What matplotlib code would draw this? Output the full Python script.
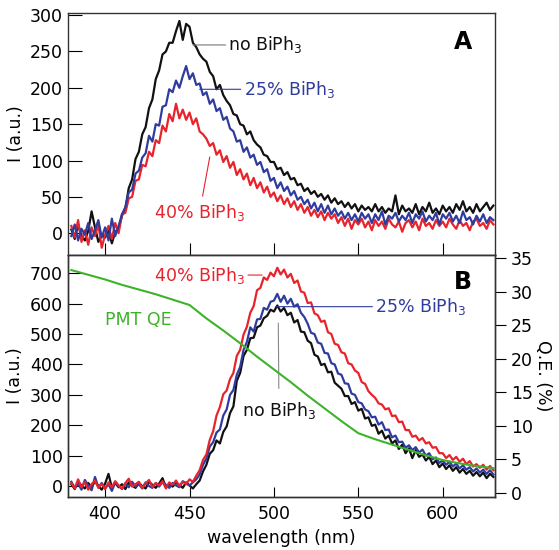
import numpy as np
import matplotlib
matplotlib.use("Agg")
import matplotlib.pyplot as plt

plt.rcParams["font.family"] = ["DejaVu Sans"]
plt.rcParams["mathtext.fontset"] = "dejavusans"

wl = np.arange(380, 631, 2)

# panel A, emission (a.u.), every 2 nm
a_none = [5, -8, 12, -4, -10, 3, 30, 8, -12, -2,
          -6, 4, -14, 2, 6, 24, 34, 62, 74, 102,
          112, 136, 146, 172, 184, 212, 224, 246, 250, 262,
          262, 278, 292, 266, 288, 284, 262, 256, 246, 240,
          236, 222, 216, 198, 204, 190, 182, 176, 164, 162,
          150, 148, 136, 140, 128, 122, 118, 108, 106, 98,
          98, 88, 90, 80, 84, 74, 76, 66, 68, 58,
          62, 54, 58, 50, 54, 46, 52, 42, 48, 40,
          44, 36, 42, 34, 40, 30, 38, 32, 36, 30,
          40, 30, 36, 28, 34, 30, 52, 26, 38, 30,
          34, 28, 40, 26, 36, 30, 42, 28, 34, 26,
          38, 30, 36, 28, 40, 32, 44, 30, 36, 28,
          40, 30, 36, 42, 32, 38]
a_25 = [-4, 12, -10, 6, -2, 14, -8, 4, 18, -6,
        8, -10, 20, -4, 10, 26, 36, 56, 60, 82,
        86, 104, 110, 134, 126, 150, 148, 174, 176, 198,
        194, 210, 200, 216, 230, 212, 220, 204, 206, 190,
        194, 178, 184, 168, 172, 156, 160, 144, 140, 126,
        128, 112, 118, 104, 108, 94, 98, 84, 88, 72,
        76, 62, 70, 58, 64, 52, 58, 46, 50, 40,
        46, 34, 42, 30, 40, 28, 38, 26, 34, 24,
        30, 20, 28, 18, 26, 16, 28, 20, 26, 14,
        26, 18, 30, 12, 24, 20, 28, 16, 24, 18,
        28, 14, 26, 20, 30, 16, 24, 18, 28, 12,
        26, 20, 28, 16, 24, 14, 30, 18, 22, 12,
        24, 16, 26, 14, 22, 18]
a_40 = [10, -6, 18, -12, 4, -16, 8, -4, 12, -20,
        -2, 10, -8, 14, 0, 26, 28, 48, 50, 72,
        74, 94, 92, 112, 106, 128, 124, 148, 140, 164,
        154, 178, 158, 170, 156, 166, 150, 158, 140, 136,
        130, 120, 124, 108, 114, 98, 106, 90, 98, 80,
        88, 74, 82, 66, 76, 62, 70, 56, 64, 50,
        56, 44, 52, 40, 48, 36, 44, 32, 40, 28,
        36, 24, 32, 22, 30, 18, 28, 20, 26, 14,
        22, 10, 20, 6, 18, 12, 20, 8, 16, 4,
        18, 10, 16, 6, 20, 12, 8, 16, 2, 14,
        18, 8, 16, 4, 20, 10, 14, 6, 18, 10,
        16, 8, 20, 12, 6, 18, 10, 14, 4, 16,
        20, 10, 14, 6, 18, 12]

# panel B, emission (a.u.)
b_none = [6, -10, 14, 2, -8, 10, -4, 16, 0, -12,
          8, 40, -6, 10, -4, 6, -10, 12, 2, -6,
          10, 0, -8, 14, 4, -6, 8, 26, -4, 6,
          -2, 10, 4, -6, 12, 2, -8, 6, 18, 48,
          70, 106, 118, 150, 140, 178, 196, 240, 262, 346,
          372, 428, 448, 486, 488, 522, 528, 552, 560, 580,
          574, 594, 574, 586, 562, 570, 538, 546, 508, 506,
          478, 470, 432, 426, 398, 402, 374, 376, 340, 330,
          320, 296, 296, 270, 276, 248, 254, 222, 226, 198,
          202, 172, 182, 156, 166, 140, 150, 122, 136, 108,
          124, 92, 118, 96, 104, 84, 96, 72, 84, 62,
          74, 56, 68, 50, 62, 44, 56, 40, 50, 34,
          46, 32, 44, 26, 40, 30]
b_25 = [14, -6, 8, -12, 20, 2, -14, 30, -4, 10,
        -8, 6, -16, 12, 0, -10, 8, -4, 14, -2,
        6, -8, 12, 0, -6, 10, -2, 14, 4, -6,
        10, 2, -4, 16, 8, 2, 12, 22, 38, 70,
        90, 130, 144, 176, 186, 232, 252, 300, 316, 366,
        392, 448, 474, 522, 508, 548, 550, 586, 580, 606,
        610, 632, 606, 626, 600, 616, 590, 598, 570, 556,
        534, 504, 500, 472, 468, 438, 436, 404, 400, 370,
        366, 338, 336, 304, 300, 276, 272, 252, 246, 226,
        228, 202, 210, 184, 186, 160, 166, 144, 146, 126,
        134, 118, 128, 110, 120, 100, 108, 88, 94, 76,
        84, 70, 80, 64, 74, 58, 68, 54, 62, 48,
        58, 44, 54, 40, 52, 38]
b_40 = [10, -8, 22, -4, 14, -12, 6, 18, -6, 8,
        -10, 12, -4, 16, 2, -8, 10, 24, -2, 6,
        14, -6, 8, 20, -4, 10, 2, 16, -8, 12,
        4, 18, 0, 14, 6, 22, 14, 34, 52, 86,
        104, 152, 180, 232, 260, 302, 314, 352, 372, 428,
        448, 498, 524, 570, 592, 644, 652, 686, 678, 702,
        690, 718, 696, 712, 686, 698, 668, 676, 640, 636,
        602, 604, 568, 562, 540, 544, 506, 500, 468, 464,
        440, 436, 404, 400, 380, 372, 342, 336, 312, 300,
        290, 272, 268, 252, 256, 230, 232, 210, 212, 184,
        184, 162, 166, 150, 158, 140, 144, 126, 128, 108,
        108, 92, 102, 86, 96, 80, 90, 72, 82, 64,
        72, 60, 70, 54, 66, 52]

# PMT quantum efficiency (%)
qe_wl = [380, 390, 400, 410, 420, 430, 440, 450, 460, 470, 480, 490, 500,
         510, 520, 530, 540, 550, 560, 570, 580, 590, 600, 610, 620, 630]
qe = [33.2, 32.5, 31.8, 31.0, 30.3, 29.6, 28.8, 28.0, 26.0, 24.2, 22.3, 20.3,
      18.4, 16.5, 14.5, 12.6, 10.7, 8.9, 8.0, 7.2, 6.4, 5.6, 4.9, 4.4, 4.0, 3.7]

BLACK = "#111111"
BLUE = "#2F3C9E"
RED = "#E8232B"
GREEN = "#3DB32A"
FS = 12.5
LW = 1.6

fig = plt.figure(figsize=(5.59, 5.5), dpi=100)
axA = fig.add_axes([0.1216, 0.5364, 0.764, 0.44])
axB = fig.add_axes([0.1216, 0.0964, 0.764, 0.44], sharex=axA)

axA.plot(wl, a_none, color=BLACK, lw=LW)
axA.plot(wl, a_40, color=RED, lw=LW)
axA.plot(wl, a_25, color=BLUE, lw=LW)
axA.set_ylim(-30, 303)
axA.set_yticks(range(0, 301, 50))
axA.set_ylabel("I (a.u.)", fontsize=FS)
axA.tick_params(axis="x", direction="in", length=9, labelbottom=False)
axA.tick_params(axis="y", direction="in", length=10, labelsize=FS)

axA.annotate("no BiPh$_3$", xy=(452, 259), xytext=(473, 259), fontsize=FS,
             color=BLACK, va="center",
             arrowprops=dict(arrowstyle="-", color="#777777", lw=0.8, shrinkA=0, shrinkB=0))
axA.annotate("25% BiPh$_3$", xy=(456, 198), xytext=(482, 198), fontsize=FS,
             color=BLUE, va="center",
             arrowprops=dict(arrowstyle="-", color=BLUE, lw=0.8, shrinkA=0, shrinkB=0))
axA.annotate("40% BiPh$_3$", xy=(462, 105), xytext=(456, 29), fontsize=FS,
             color=RED, ha="center", va="center",
             arrowprops=dict(arrowstyle="-", color=RED, lw=0.8, shrinkA=2, shrinkB=0))
axA.text(0.925, 0.88, "A", transform=axA.transAxes, fontsize=17,
         fontweight="bold", ha="center", va="center")

axB.plot(wl, b_none, color=BLACK, lw=LW)
axB.plot(wl, b_25, color=BLUE, lw=LW)
axB.plot(wl, b_40, color=RED, lw=LW)
axB.set_ylim(-36, 760)
axB.set_yticks(range(0, 701, 100))
axB.set_xlim(378, 631)
axB.set_xticks(range(400, 601, 50))
axB.set_ylabel("I (a.u.)", fontsize=FS)
axB.set_xlabel("wavelength (nm)", fontsize=FS)
axB.tick_params(axis="x", direction="in", length=7, labelsize=FS, pad=6)
axB.tick_params(axis="y", direction="in", length=10, labelsize=FS)

axQ = axB.twinx()
axQ.plot(qe_wl, qe, color=GREEN, lw=1.5)
axQ.set_ylim(-0.6, 35.45)
axQ.set_yticks(range(0, 36, 5))
axQ.tick_params(axis="y", direction="out", length=8, labelsize=FS)
axQ.set_ylabel("Q.E. (%)", fontsize=FS, rotation=270, labelpad=14)

axB.annotate("40% BiPh$_3$", xy=(493, 694), xytext=(483, 694), fontsize=FS,
             color=RED, ha="right", va="center",
             arrowprops=dict(arrowstyle="-", color=RED, lw=0.8, shrinkA=0, shrinkB=0))
axB.annotate("25% BiPh$_3$", xy=(501, 590), xytext=(560, 590), fontsize=FS,
             color=BLUE, va="center",
             arrowprops=dict(arrowstyle="-", color=BLUE, lw=0.8, shrinkA=0, shrinkB=0))
axB.annotate("no BiPh$_3$", xy=(502.6, 536), xytext=(503, 250), fontsize=FS,
             color=BLACK, ha="center", va="center",
             arrowprops=dict(arrowstyle="-", color="#888888", lw=0.8, shrinkA=6, shrinkB=0))
axB.text(400, 546, "PMT QE", fontsize=FS, color=GREEN, va="center")
axB.text(0.925, 0.888, "B", transform=axB.transAxes, fontsize=17,
         fontweight="bold", ha="center", va="center")

for ax in (axA, axB, axQ):
    for s in ax.spines.values():
        s.set_linewidth(1.0)
        s.set_color("#333333")

fig.savefig("out.png", dpi=100)
